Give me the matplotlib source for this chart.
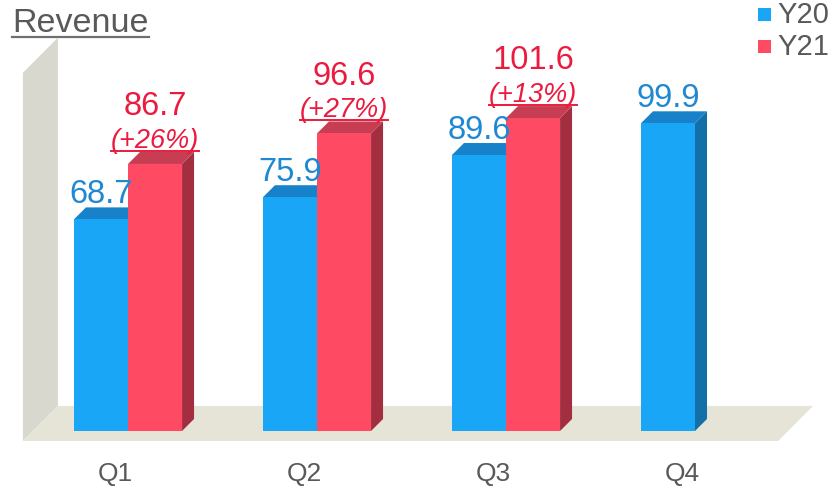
import matplotlib
matplotlib.use("Agg")
import matplotlib.pyplot as plt
from matplotlib.patches import Polygon, Rectangle
from matplotlib.lines import Line2D
from matplotlib.transforms import IdentityTransform

# ---- data ----
categories = ["Q1", "Q2", "Q3", "Q4"]
y20 = [68.7, 75.9, 89.6, 99.9]
y21 = [86.7, 96.6, 101.6, None]
growth = ["(+26%)", "(+27%)", "(+13%)", None]
series_names = ["Y20", "Y21"]

plt.rcParams["font.family"] = ["Liberation Sans", "DejaVu Sans"]

W, H, DPI = 8.34, 4.88, 100
fig = plt.figure(figsize=(W, H), dpi=DPI)
ax = fig.add_axes([0, 0, 1, 1])
ax.set_xlim(-0.6772, 3.7354)
ax.set_ylim(-18.51, 139.94)
ax.axis("off")

# styles
BLUE = dict(front="#19A6F7", top="#1781C9", side="#136FA8", text="#1E88D2")
RED = dict(front="#FF4A64", top="#C73D52", side="#A32E3F", text="#EC1A3E")
WALL_C = "#D9D8CE"
FLOOR_C = "#E5E4D6"
GREY = "#595959"

BAR_W = 0.286
BAR_DX = 0.0635
BAR_DY = 3.9

# wall and floor geometry
WALL_X = -0.556
DEPTH_X = 0.185
DEPTH_Y = 11.4
FLOOR_Y = -3.25
WALL_TOP = 116.3
FLOOR_RIGHT = 3.44

wall = Polygon([(WALL_X, FLOOR_Y), (WALL_X, WALL_TOP),
                (WALL_X + DEPTH_X, WALL_TOP + DEPTH_Y),
                (WALL_X + DEPTH_X, FLOOR_Y + DEPTH_Y)],
               closed=True, facecolor=WALL_C, edgecolor="none", zorder=1)
floor = Polygon([(WALL_X, FLOOR_Y), (FLOOR_RIGHT, FLOOR_Y),
                 (FLOOR_RIGHT + DEPTH_X, FLOOR_Y + DEPTH_Y),
                 (WALL_X + DEPTH_X, FLOOR_Y + DEPTH_Y)],
                closed=True, facecolor=FLOOR_C, edgecolor="none", zorder=1)
ax.add_patch(wall)
ax.add_patch(floor)


def draw_bar(x0, v, c, z):
    ax.add_patch(Polygon([(x0 + BAR_W, 0), (x0 + BAR_W + BAR_DX, BAR_DY),
                          (x0 + BAR_W + BAR_DX, v + BAR_DY), (x0 + BAR_W, v)],
                         closed=True, facecolor=c["side"], edgecolor="none", zorder=z))
    ax.add_patch(Polygon([(x0, v), (x0 + BAR_W, v),
                          (x0 + BAR_W + BAR_DX, v + BAR_DY), (x0 + BAR_DX, v + BAR_DY)],
                         closed=True, facecolor=c["top"], edgecolor="none", zorder=z))
    ax.add_patch(Rectangle((x0, 0), BAR_W, v, facecolor=c["front"],
                           edgecolor="none", zorder=z))


underline_items = []
for i, cat in enumerate(categories):
    z = 2 + i * 2
    v20 = y20[i]
    draw_bar(i - BAR_W, v20, BLUE, z)
    ax.annotate(f"{v20:.1f}", xy=(i - BAR_W / 2, v20 + BAR_DY), xytext=(0, 3),
                textcoords="offset points", ha="center", va="baseline",
                fontsize=23.5, color=BLUE["text"], zorder=20)
    v21 = y21[i]
    if v21 is not None:
        draw_bar(i, v21, RED, z + 1)
        pt = ax.annotate(growth[i], xy=(i + BAR_W / 2, v21 + BAR_DY), xytext=(0, 3),
                         textcoords="offset points", ha="center", va="baseline",
                         fontsize=19.5, fontstyle="italic", color=RED["text"], zorder=20)
        underline_items.append((pt, (i + BAR_W / 2, v21 + BAR_DY), 3, RED["text"]))
        ax.annotate(f"{v21:.1f}", xy=(i + BAR_W / 2, v21 + BAR_DY), xytext=(0, 26.5),
                    textcoords="offset points", ha="center", va="baseline",
                    fontsize=23.5, color=RED["text"], zorder=20)
    ax.text(i - 0.065, -16.2, cat, ha="center", va="baseline", fontsize=19,
            color=GREY, zorder=20)

# title
title = fig.text(12 / (W * DPI), 1 - 32 / (H * DPI), "Revenue", ha="left",
                 va="baseline", fontsize=24.5, color=GREY)

# legend
leg_cols = [BLUE["front"], RED["front"]]
for k, name in enumerate(series_names):
    top_px = 8 + 32 * k
    fig.patches.append(Rectangle((758 / (W * DPI), 1 - (top_px + 12.5) / (H * DPI)),
                                 13 / (W * DPI), 12.5 / (H * DPI),
                                 transform=fig.transFigure, facecolor=leg_cols[k],
                                 edgecolor="none"))
    fig.text(777 / (W * DPI), 1 - (23 + 32 * k) / (H * DPI), name, ha="left",
             va="baseline", fontsize=21, color=GREY)

# underlines
fig.canvas.draw()
renderer = fig.canvas.get_renderer()
for t, xy, off, col in underline_items:
    bb = t.get_window_extent(renderer)
    base = ax.transData.transform(xy)[1] + off * DPI / 72.0
    yline = base - 3
    fig.add_artist(Line2D([bb.x0, bb.x1], [yline, yline], color=col, lw=1.4,
                          transform=IdentityTransform()))
bb = title.get_window_extent(renderer)
ybase = (1 - 32 / (H * DPI)) * H * DPI
fig.add_artist(Line2D([bb.x0, bb.x1], [ybase - 5, ybase - 5], color="#6f6f6f", lw=1.6,
                      transform=IdentityTransform()))

fig.savefig("out.png", dpi=DPI)
